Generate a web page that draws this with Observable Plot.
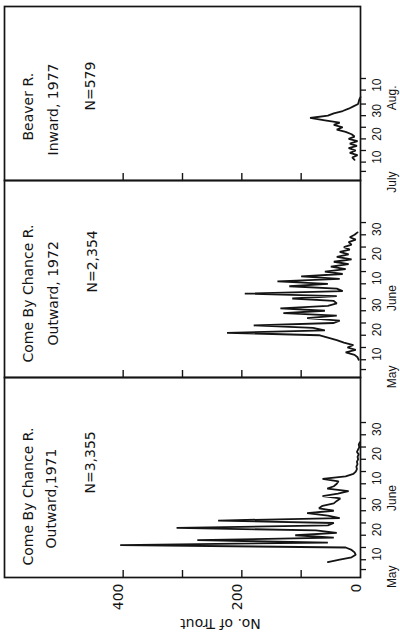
<!DOCTYPE html>
<html><head><meta charset="utf-8">
<script src="https://cdn.jsdelivr.net/npm/d3@7"></script>
<script src="https://cdn.jsdelivr.net/npm/@observablehq/plot@0.6"></script>
<style>
html,body{margin:0;padding:0;background:#fff;}
#chart{position:relative;width:400px;height:632px;overflow:hidden;background:#fff;}
#chart svg{position:absolute;left:0;display:block;}
</style></head>
<body><div id="chart"></div>
<script>
// ---- count axis (horizontal in the picture) ----
const countTicks = [100, 200, 300, 400];
const countLabels = [0, 200, 400];
const countTitle = "No. of Trout";

// ---- Panel A: Come By Chance R., Outward 1971 ----
const titlesA = ["Come By Chance R.", "Outward,1971", "N=3,355"];
const datesA = ["1971-05-04","1971-05-05","1971-05-06","1971-05-07","1971-05-08","1971-05-09","1971-05-10","1971-05-11","1971-05-12","1971-05-13","1971-05-14","1971-05-15","1971-05-16","1971-05-17","1971-05-18","1971-05-19","1971-05-20","1971-05-21","1971-05-22","1971-05-23","1971-05-24","1971-05-25","1971-05-26","1971-05-27","1971-05-28","1971-05-29","1971-05-30","1971-05-31","1971-06-01","1971-06-02","1971-06-03","1971-06-04","1971-06-05","1971-06-06","1971-06-07","1971-06-08","1971-06-09","1971-06-10","1971-06-11","1971-06-12","1971-06-13","1971-06-14","1971-06-15","1971-06-16","1971-06-17","1971-06-18","1971-06-19","1971-06-20","1971-06-21","1971-06-22"];
const troutA = [55,35,15,8,10,15,25,405,55,275,45,110,40,75,310,55,45,240,35,55,90,45,70,64,45,40,34,64,38,20,56,45,40,37,64,25,12,8,6,7,5,6,4,5,3,6,4,2,3,1];
const tickDatesA = ["1971-05-01","1971-05-05","1971-05-10","1971-05-15","1971-05-20","1971-05-25","1971-05-30","1971-06-05","1971-06-10","1971-06-15","1971-06-20","1971-06-25","1971-06-30"];
const dayLabelDatesA = ["1971-05-10","1971-05-20","1971-05-30","1971-06-10","1971-06-20","1971-06-30"];
const dayLabelsA = ["10","20","30","10","20","30"];
const monthDatesA = ["1971-05-02T16:00Z","1971-06-04T12:00Z"];
const monthLabelsA = ["May","June"];

// ---- Panel B: Come By Chance R., Outward 1972 ----
const titlesB = ["Come By Chance R.", "Outward, 1972", "N=2,354"];
const datesB = ["1972-05-05","1972-05-06","1972-05-07","1972-05-08","1972-05-09","1972-05-10","1972-05-11","1972-05-12","1972-05-13","1972-05-14","1972-05-15","1972-05-16","1972-05-17","1972-05-18","1972-05-19","1972-05-20","1972-05-21","1972-05-22","1972-05-23","1972-05-24","1972-05-25","1972-05-26","1972-05-27","1972-05-28","1972-05-29","1972-05-30","1972-05-31","1972-06-01","1972-06-02","1972-06-03","1972-06-04","1972-06-05","1972-06-06","1972-06-07","1972-06-08","1972-06-09","1972-06-10","1972-06-11","1972-06-12","1972-06-13","1972-06-14","1972-06-15","1972-06-16","1972-06-17","1972-06-18","1972-06-19","1972-06-20","1972-06-21","1972-06-22","1972-06-23","1972-06-24","1972-06-25","1972-06-26"];
const troutB = [3,5,10,25,8,22,12,28,40,55,70,225,60,80,180,45,35,90,40,130,60,135,55,40,45,115,40,195,30,40,120,55,140,35,100,30,60,25,50,20,45,15,40,20,35,18,28,15,20,8,18,10,5];
const tickDatesB = ["1972-05-01","1972-05-05","1972-05-10","1972-05-15","1972-05-20","1972-05-25","1972-05-30","1972-06-05","1972-06-10","1972-06-15","1972-06-20","1972-06-25","1972-06-30"];
const dayLabelDatesB = ["1972-05-10","1972-05-20","1972-05-30","1972-06-10","1972-06-20","1972-06-30"];
const dayLabelsB = ["10","20","30","10","20","30"];
const monthDatesB = ["1972-05-02T16:00Z","1972-06-04T12:00Z"];
const monthLabelsB = ["May","June"];

// ---- Panel C: Beaver R., Inward 1977 ----
const titlesC = ["Beaver R.", "Inward, 1977", "N=579"];
const datesC = ["1977-07-06","1977-07-07","1977-07-08","1977-07-09","1977-07-10","1977-07-11","1977-07-12","1977-07-13","1977-07-14","1977-07-15","1977-07-16","1977-07-17","1977-07-18","1977-07-19","1977-07-20","1977-07-21","1977-07-22","1977-07-23","1977-07-24","1977-07-25","1977-07-26","1977-07-27","1977-07-28","1977-07-29","1977-07-30","1977-07-31","1977-08-01","1977-08-02"];
const troutC = [10,14,5,18,8,20,6,18,5,20,10,15,25,40,30,45,35,60,85,55,45,30,20,12,4,3,2,0];
const tickDatesC = ["1977-07-01","1977-07-05","1977-07-10","1977-07-15","1977-07-20","1977-07-25","1977-07-30","1977-08-05","1977-08-10"];
const dayLabelDatesC = ["1977-07-10","1977-07-20","1977-07-30","1977-08-10"];
const dayLabelsC = ["10","20","30","10"];
const monthDatesC = ["1977-07-01","1977-08-07"];
const monthLabelsC = ["July","Aug."];

const INK = "#141414";
const FONT = "DejaVu Sans";
const FONT2 = "Liberation Sans";

function panel(cfg) {
  const series = cfg.dates.map((d, i) => ({date: new Date(d), count: cfg.counts[i]}));
  const frameH = cfg.height - cfg.marginTop - cfg.marginBottom;
  const frameW = 400 - 4 - 40;
  const marks = [
    Plot.frame({stroke: INK, strokeWidth: 1.7}),
    Plot.tickX(countTicks, {x: d => d, insetTop: frameH - 7, stroke: INK, strokeWidth: 1.4}),
    Plot.tickY(cfg.ticks.map(d => new Date(d)), {y: d => d, insetLeft: frameW, insetRight: -6, stroke: INK, strokeWidth: 1.3}),
    Plot.text(cfg.dayDates.map((d, i) => ({date: new Date(d), label: cfg.dayLabels[i]})),
      {y: "date", text: "label", frameAnchor: "right", dx: 17, rotate: -90, fontSize: 12, fontFamily: FONT2, fill: INK}),
    Plot.text(cfg.monthDates.map((d, i) => ({date: new Date(d), label: cfg.monthLabels[i]})),
      {y: "date", text: "label", frameAnchor: "right", dx: 32, rotate: -90, fontSize: 12, fontFamily: FONT2, fill: INK}),
    Plot.line(series, {x: "count", y: "date", stroke: INK, strokeWidth: 1.8, strokeLinejoin: "miter"}),
  ];
  cfg.titles.forEach((t, i) => {
    marks.push(Plot.text([t], {frameAnchor: "bottom-left", dx: cfg.titlePos[i][0], dy: cfg.titlePos[i][1],
      rotate: -90, textAnchor: "start", fontSize: 14, fontFamily: FONT, fill: INK}));
  });
  if (cfg.countAxis) {
    marks.push(Plot.text(countLabels, {x: d => d, text: d => String(d), frameAnchor: "bottom", dy: 6,
      rotate: -90, textAnchor: "end", fontSize: 14, fontFamily: FONT, fill: INK}));
    marks.push(Plot.text([countTitle], {frameAnchor: "bottom", dx: 38, dy: 41, rotate: 180,
      fontSize: 14, fontFamily: FONT, fill: INK}));
  }
  const svg = Plot.plot({
    width: 400, height: cfg.height,
    marginLeft: 4, marginRight: 40, marginTop: cfg.marginTop, marginBottom: cfg.marginBottom,
    x: {domain: [0, 600], reverse: true, axis: null},
    y: {type: "utc", domain: cfg.yDomain.map(d => new Date(d)), axis: null},
    style: {background: "transparent", overflow: "visible"},
    marks
  });
  svg.style.top = cfg.top + "px";
  return svg;
}

const chart = document.getElementById("chart");
chart.append(panel({
  top: 0, height: 182, marginTop: 6, marginBottom: 2,
  yDomain: ["1977-06-27T02:00Z", "1977-09-10T00:00Z"],
  dates: datesC, counts: troutC, ticks: tickDatesC,
  dayDates: dayLabelDatesC, dayLabels: dayLabelsC, monthDates: monthDatesC, monthLabels: monthLabelsC,
  titles: titlesC, titlePos: [[28, -40], [53, -25], [90, -70]]
}));
chart.append(panel({
  top: 178, height: 201, marginTop: 2, marginBottom: 2,
  yDomain: ["1972-04-27T18:00Z", "1972-07-17T04:00Z"],
  dates: datesB, counts: troutB, ticks: tickDatesB,
  dayDates: dayLabelDatesB, dayLabels: dayLabelsB, monthDates: monthDatesB, monthLabels: monthLabelsB,
  titles: titlesB, titlePos: [[28, -15], [53, -32], [92, -85]]
}));
chart.append(panel({
  top: 375, height: 257, marginTop: 2, marginBottom: 55,
  yDomain: ["1971-04-27T18:00Z", "1971-07-18T09:00Z"],
  dates: datesA, counts: troutA, ticks: tickDatesA,
  dayDates: dayLabelDatesA, dayLabels: dayLabelsA, monthDates: monthDatesA, monthLabels: monthLabelsA,
  titles: titlesA, titlePos: [[28, -12], [51, -29], [90, -84]],
  countAxis: true
}));
</script></body></html>
